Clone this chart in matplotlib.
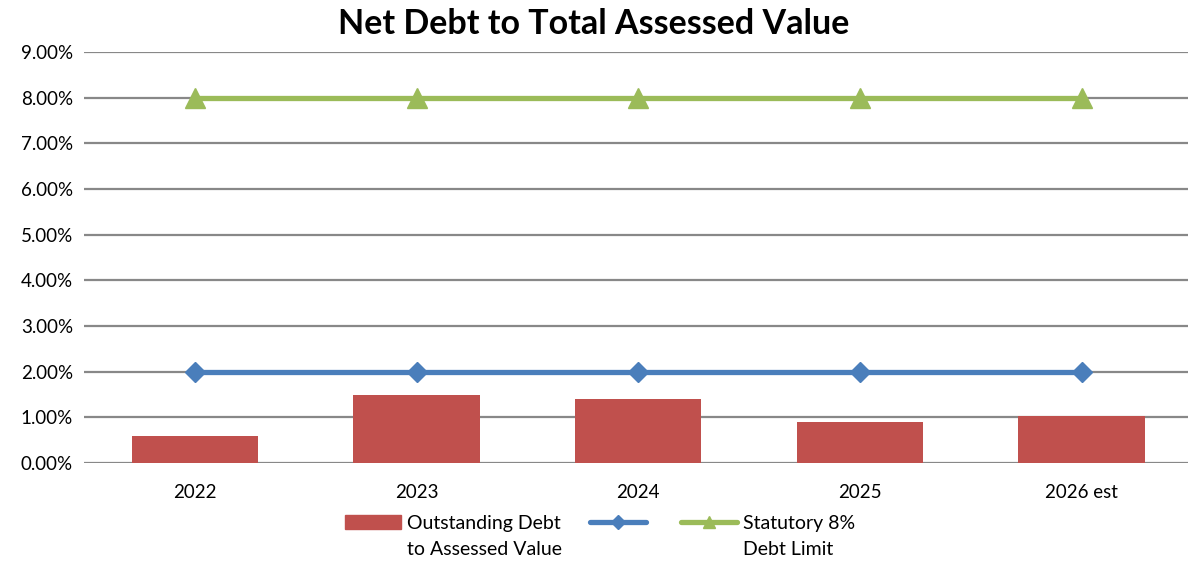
import matplotlib
matplotlib.use("Agg")
import matplotlib.pyplot as plt
from matplotlib.lines import Line2D
from matplotlib.patches import Patch
import numpy as np

years = ["2022", "2023", "2024", "2025", "2026 est"]
debt_pct = [0.59, 1.48, 1.40, 0.90, 1.03]
policy_pct = [2.0, 2.0, 2.0, 2.0, 2.0]
statutory_pct = [8.0, 8.0, 8.0, 8.0, 8.0]
yticks = np.arange(0, 10, 1)
legend_first = ["Outstanding Debt", "", "Statutory 8%"]
legend_second = ["to Assessed Value", "", "Debt Limit"]

plt.rcParams['font.family'] = ['Lato', 'DejaVu Sans']

red = "#C0504D"
blue = "#4A7EBB"
green = "#9BBB59"

fig = plt.figure(figsize=(11.88, 5.61), dpi=100)
ax = fig.add_axes([0.0707, 0.1747, 0.933, 0.7326])

x = np.arange(len(years))
ax.bar(x, debt_pct, width=0.57, color=red, zorder=3)
ax.plot(x, policy_pct, color=blue, lw=3.8, marker="D", ms=10, zorder=4,
        solid_capstyle="round")
ax.plot(x, statutory_pct, color=green, lw=3.8, marker="^", ms=14, zorder=4,
        solid_capstyle="round")

ax.set_xlim(-0.5, 4.5)
ax.set_ylim(0, 9)
ax.set_yticks(yticks)
ax.set_yticklabels([f"{v:.2f}%" for v in yticks], fontsize=13.5)
ax.set_xticks(x)
ax.set_xticklabels(years, fontsize=13.5)
ax.tick_params(length=0, pad=8)
ax.tick_params(axis="x", pad=15)
ax.grid(axis="y", color="#888888", lw=1.6, zorder=0)
for s in ax.spines.values():
    s.set_visible(False)

fig.suptitle("Net Debt to Total Assessed Value", fontsize=24.5, fontweight="bold",
             x=0.5, y=0.985, va="top")

# legend: handles line up with the first text line, second line added below
handles = [Patch(color=red),
           Line2D([], [], color=blue, lw=3.8, marker="D", ms=7, solid_capstyle="round"),
           Line2D([], [], color=green, lw=3.8, marker="^", ms=9, solid_capstyle="round")]
leg = fig.legend(handles, legend_first, loc="upper center", ncol=3, frameon=False,
                 fontsize=14, bbox_to_anchor=(0.505, 0.113), handlelength=2.9,
                 handleheight=0.75, columnspacing=1.5, handletextpad=0.3)

fig.canvas.draw()
W, H = fig.canvas.get_width_height()
for t, extra in zip(leg.get_texts(), legend_second):
    if not extra:
        continue
    bb = t.get_window_extent()
    fig.text(bb.x0 / W, (bb.y0 - 26) / H, extra, fontsize=14,
             ha="left", va="bottom")

fig.savefig("out.png", dpi=100)
